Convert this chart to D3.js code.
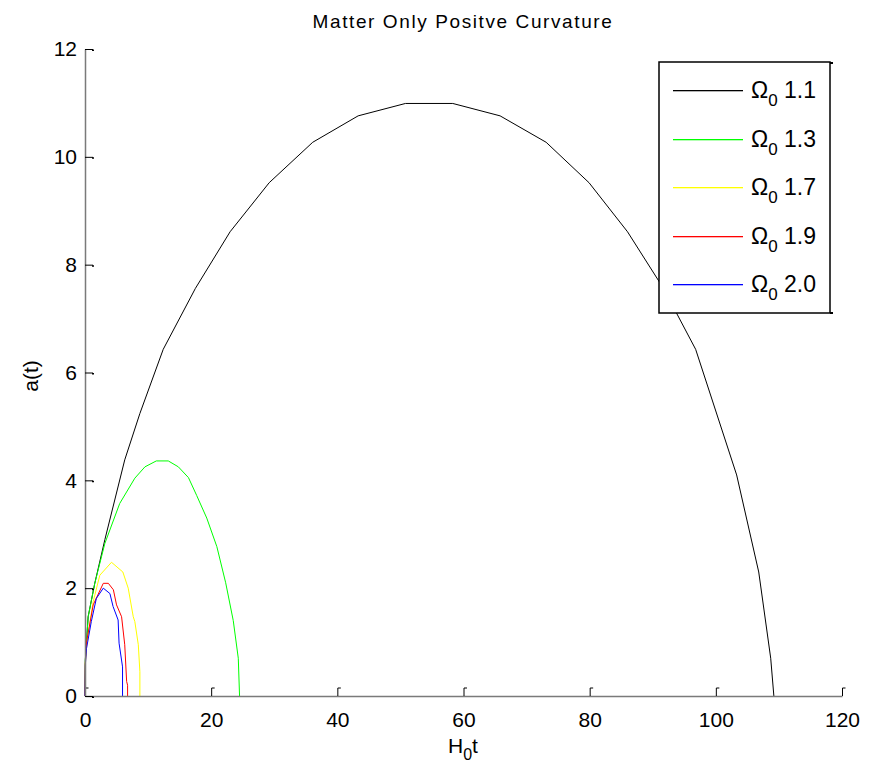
<!DOCTYPE html>
<html>
<head>
<meta charset="utf-8">
<script src="https://cdn.jsdelivr.net/npm/d3@7"></script>
<style>
  body { margin: 0; background: #fff; }
  text { font-family: "Liberation Sans", Arial, sans-serif; }
</style>
</head>
<body>
<svg id="chart"></svg>
<script>
// values (H0t, a(t))
const t11 = [0, 0.05, 0.5, 1.55, 3.15, 6.3, 8.7, 12.4, 17.5, 23.0, 29.2, 36.1, 43.3, 50.8, 58.3, 65.8, 73.1, 79.9, 86.0, 91.7, 96.8, 103.3, 106.8, 108.7, 109.2]
const a11 = [0, 0.67, 1.47, 2.09, 2.9, 4.38, 5.24, 6.43, 7.56, 8.61, 9.52, 10.27, 10.76, 10.99, 10.99, 10.76, 10.27, 9.52, 8.61, 7.56, 6.43, 4.1, 2.3, 0.7, 0]

const t13 = [0, 0.05, 0.5, 1.55, 3.15, 5.5, 7.9, 9.5, 11.3, 13.2, 14.8, 16.4, 17.7, 19.3, 20.9, 22.3, 23.5, 24.3, 24.5]
const a13 = [0, 0.67, 1.47, 2.09, 2.83, 3.57, 4.04, 4.25, 4.36, 4.36, 4.25, 4.05, 3.72, 3.3, 2.77, 2.1, 1.4, 0.7, 0]

const t17 = [0, 0.05, 0.3, 1.3, 2.35, 4.2, 6.0, 6.85, 7.65, 7.9, 8.45, 8.7, 8.7]
const a17 = [0, 0.6, 1.0, 1.75, 2.24, 2.48, 2.3, 2.0, 1.47, 1.38, 0.95, 0.45, 0]

const t19 = [0, 0.05, 0.24, 1.3, 2.9, 3.7, 4.5, 5.0, 5.8, 6.3, 6.6, 6.75, 6.75]
const a19 = [0, 0.6, 1.0, 1.69, 2.09, 2.09, 1.97, 1.69, 1.47, 0.95, 0.27, 0.2, 0]

const t20 = [0, 0.05, 0.24, 1.0, 1.8, 2.9, 3.95, 4.45, 5.25, 5.4, 5.95, 5.95]
const a20 = [0, 0.57, 0.88, 1.38, 1.81, 2.0, 1.9, 1.66, 1.41, 0.98, 0.54, 0]

const seriesNames = ['1.1', '1.3', '1.7', '1.9', '2.0']
const seriesColors = ['#000000', '#00ff00', '#ffff00', '#ff0000', '#0000ff']
const seriesT = [t11, t13, t17, t19, t20]
const seriesA = [a11, a13, a17, a19, a20]

const xTicks = [0, 20, 40, 60, 80, 100, 120]
const yTicks = [0, 2, 4, 6, 8, 10, 12]

const W = 871, H = 769
const svg = d3.select('#chart').attr('width', W).attr('height', H)

const x = d3.scaleLinear().domain([0, 120]).range([85, 842])
const y = d3.scaleLinear().domain([0, 12]).range([696, 49])

// curves
const line = d3.line().x(d => x(d[0])).y(d => y(d[1]))
seriesT.forEach((ts, i) => {
  svg.append('path')
    .datum(ts.map((t, j) => [t, seriesA[i][j]]))
    .attr('d', line)
    .attr('fill', 'none')
    .attr('stroke', seriesColors[i])
    .attr('stroke-width', 1)
})

// axes
const xAxis = svg.append('g')
  .attr('transform', `translate(0,${y(0)})`)
  .call(d3.axisBottom(x).tickValues(xTicks).tickSizeInner(-8).tickSizeOuter(0).tickPadding(16))
const yAxis = svg.append('g')
  .attr('transform', `translate(${x(0)},0)`)
  .call(d3.axisLeft(y).tickValues(yTicks).tickSizeInner(-8).tickSizeOuter(0).tickPadding(8))

xAxis.select('.domain').attr('stroke', '#7a7a7a').attr('stroke-width', 1.5)
yAxis.select('.domain').attr('stroke', '#7a7a7a').attr('stroke-width', 1.5)
xAxis.selectAll('.tick line').attr('stroke', '#000')
yAxis.selectAll('.tick line').attr('stroke', '#000')
// little hooks on the tick marks
xAxis.selectAll('.tick').append('line')
  .attr('x1', 0).attr('x2', 3).attr('y1', -8).attr('y2', -8).attr('stroke', '#000')
yAxis.selectAll('.tick').append('line')
  .attr('x1', 8).attr('x2', 8).attr('y1', 0).attr('y2', 1.5).attr('stroke', '#000').attr('stroke-width', 2)

svg.selectAll('.tick text')
  .attr('fill', '#000')
  .style('font-size', '21px')
xAxis.selectAll('.tick text').attr('dy', '0.71em')

// titles
svg.append('text')
  .attr('x', 463).attr('y', 28)
  .attr('text-anchor', 'middle')
  .style('font-size', '19px')
  .style('letter-spacing', '1.6px')
  .text('Matter Only Positve Curvature')

const xl = svg.append('text')
  .attr('x', 463).attr('y', 753)
  .attr('text-anchor', 'middle')
  .style('font-size', '21px')
xl.append('tspan').text('H')
xl.append('tspan').attr('dy', 7).style('font-size', '16px').text('0')
xl.append('tspan').attr('dy', -7).text('t')

svg.append('text')
  .attr('transform', 'translate(38,376) rotate(-90)')
  .attr('text-anchor', 'middle')
  .style('font-size', '21px')
  .text('a(t)')

// legend
const lg = svg.append('g')
lg.append('rect')
  .attr('x', 659).attr('y', 62).attr('width', 171).attr('height', 251)
  .attr('fill', '#fff').attr('stroke', '#000').attr('stroke-width', 1.5)
lg.append('line').attr('x1', 830).attr('x2', 833).attr('y1', 63).attr('y2', 63).attr('stroke', '#000').attr('stroke-width', 2)
lg.append('line').attr('x1', 830).attr('x2', 833).attr('y1', 313).attr('y2', 313).attr('stroke', '#000').attr('stroke-width', 2)

seriesNames.forEach((name, i) => {
  const yy = Math.round(90 + i * 48.5)
  lg.append('rect')
    .attr('x', 673).attr('y', yy).attr('width', 70).attr('height', 1.3)
    .attr('fill', seriesColors[i])
  const tx = lg.append('text')
    .attr('x', 751).attr('y', yy + 8)
    .style('font-size', '23px')
  tx.append('tspan').text('\u03A9')
  tx.append('tspan').attr('dy', 8).style('font-size', '17px').text('0')
  tx.append('tspan').attr('dy', -8).text(' ' + name)
})
</script>
</body>
</html>
